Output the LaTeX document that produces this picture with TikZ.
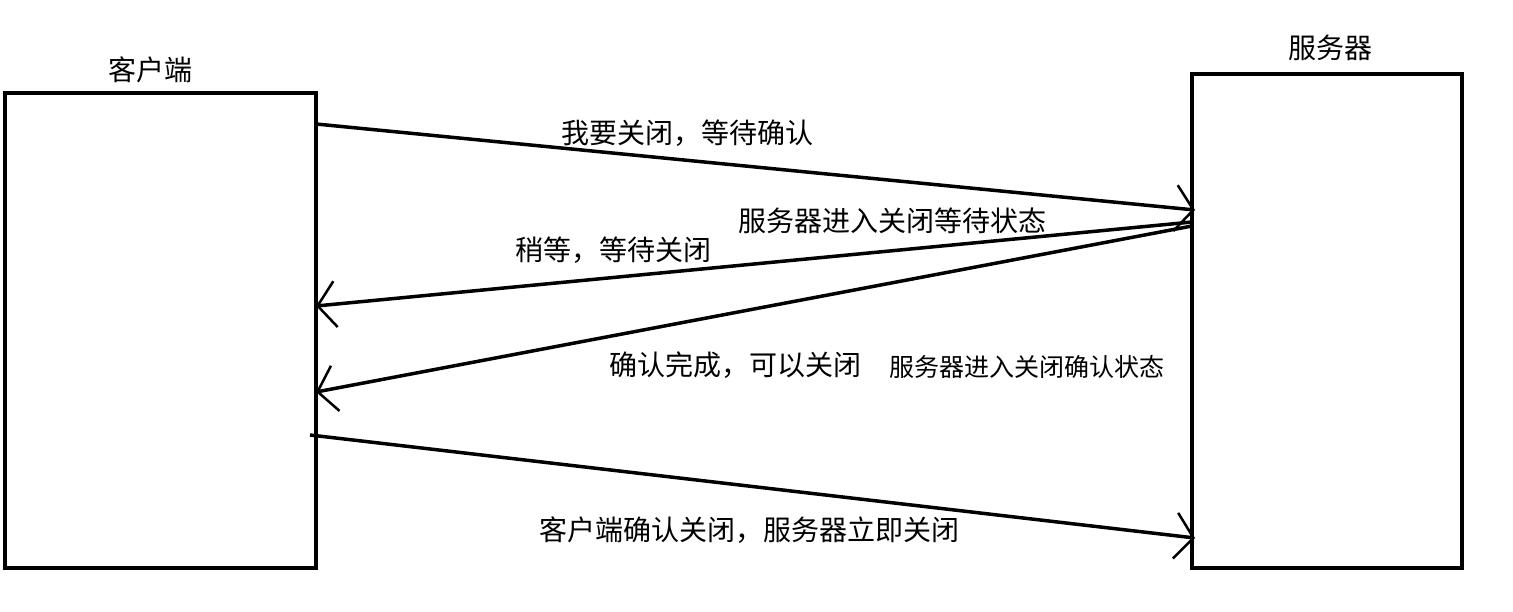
\documentclass[tikz,border=0pt]{standalone}
\usepackage{fontspec}
\setmainfont{Noto Sans CJK SC}
\usetikzlibrary{arrows.meta}
\begin{document}
\begin{tikzpicture}[x=1pt,y=-1pt,
  box/.style={draw,line width=3.5pt},
  msg/.style={line width=3.5pt,-{Straight Barb[length=18pt,width=46pt,line width=2.5pt]}},
  lbl/.style={font=\fontsize{28}{32}\selectfont,inner sep=0pt},
  slbl/.style={font=\fontsize{25}{29}\selectfont,inner sep=0pt}]
\useasboundingbox (0,0) rectangle (1513,611);
\draw[box] (5,93) rectangle (316,568);
\draw[box] (1192,74) rectangle (1462,568);
\node[lbl] (c) at (150,70) {客户端};
\node[lbl] (s) at (1330,48) {服务器};
\coordinate (a1) at (316,124); \coordinate (b1) at (1195,210);
\coordinate (a2) at (1192,222); \coordinate (b2) at (316,306);
\coordinate (a3) at (1192,226); \coordinate (b3) at (316,392);
\coordinate (a4) at (310,435); \coordinate (b4) at (1195,538);
\draw[msg] (a1) -- (b1);
\draw[msg] (a2) -- (b2);
\draw[msg] (a3) -- (b3);
\draw[msg] (a4) -- (b4);
\node[lbl] (t1) at (687,133) {我要关闭，等待确认};
\node[lbl] (t2) at (613,250) {稍等，等待关闭};
\node[lbl] (t3) at (892,221) {服务器进入关闭等待状态};
\node[lbl] (t4) at (735,365) {确认完成，可以关闭};
\node[slbl] (t5) at (1027,367) {服务器进入关闭确认状态};
\node[lbl] (t6) at (749,530) {客户端确认关闭，服务器立即关闭};
\end{tikzpicture}
\end{document}
